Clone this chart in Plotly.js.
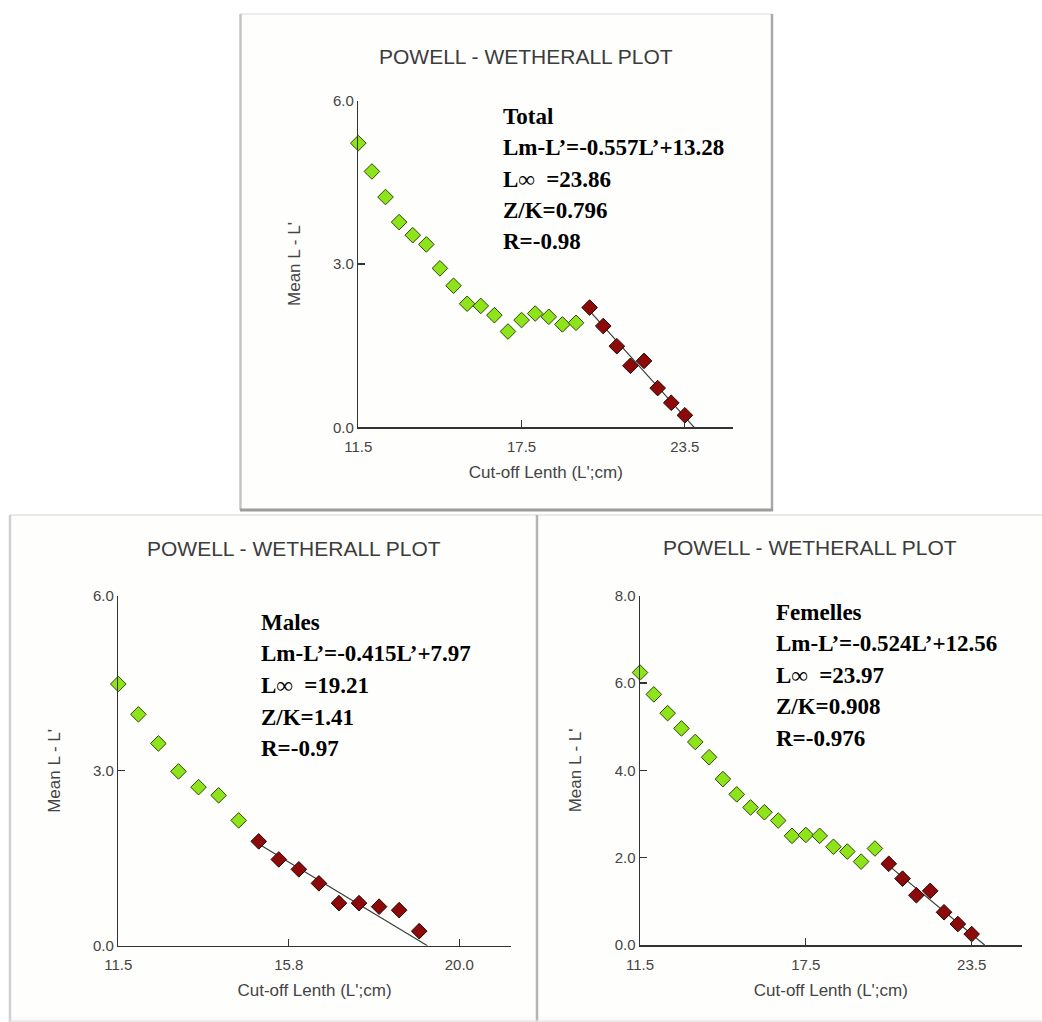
<!DOCTYPE html>
<html>
<head>
<meta charset="utf-8">
<script src="https://cdn.plot.ly/plotly-3.0.1.min.js"></script>
<style>
html,body{margin:0;padding:0;background:#fff;}
#chart{width:1042px;height:1022px;}
</style>
</head>
<body>
<div id="chart"></div>
<script>
// ---------- data ----------
const chartTitle = "POWELL - WETHERALL PLOT";
const xTitle = "Cut-off Lenth (L';cm)";
const yTitle = "Mean L - L'";

// Total
const totalLen  = [11.5,12,12.5,13,13.5,14,14.5,15,15.5,16,16.5,17,17.5,18,18.5,19,19.5,20,20.5,21,21.5,22,22.5,23,23.5];
const totalMean = [5.22,4.70,4.23,3.77,3.53,3.36,2.92,2.60,2.27,2.23,2.06,1.76,1.97,2.09,2.03,1.89,1.92,2.20,1.86,1.49,1.13,1.22,0.72,0.45,0.22];
const totalFitFrom = 17;
const totalSlope = -0.557, totalIntercept = 13.28;
const totalText = ["Total", "Lm-L’=-0.557L’+13.28", "L∞\u00a0 =23.86", "Z/K=0.796", "R=-0.98"];
const totalXTicks = [11.5, 17.5, 23.5];
const totalXTickText = ["11.5", "17.5", "23.5"];
const totalYTicks = [0, 3, 6];
const totalYTickText = ["0.0", "3.0", "6.0"];

// Males
const maleLen  = [11.5,12,12.5,13,13.5,14,14.5,15,15.5,16,16.5,17,17.5,18,18.5,19];
const maleMean = [4.49,3.97,3.47,2.99,2.72,2.58,2.15,1.79,1.48,1.31,1.07,0.73,0.73,0.67,0.61,0.25];
const maleFitFrom = 7;
const maleSlope = -0.415, maleIntercept = 7.97;
const maleText = ["Males", "Lm-L’=-0.415L’+7.97", "L∞\u00a0 =19.21", "Z/K=1.41", "R=-0.97"];
const maleXTicks = [11.5, 15.75, 20];
const maleXTickText = ["11.5", "15.8", "20.0"];
const maleYTicks = [0, 3, 6];
const maleYTickText = ["0.0", "3.0", "6.0"];

// Femelles
const femLen  = [11.5,12,12.5,13,13.5,14,14.5,15,15.5,16,16.5,17,17.5,18,18.5,19,19.5,20,20.5,21,21.5,22,22.5,23,23.5];
const femMean = [6.24,5.74,5.31,4.96,4.65,4.30,3.80,3.45,3.15,3.04,2.85,2.50,2.52,2.50,2.25,2.14,1.91,2.21,1.86,1.52,1.14,1.24,0.75,0.48,0.25];
const femFitFrom = 18;
const femSlope = -0.524, femIntercept = 12.56;
const femText = ["Femelles", "Lm-L’=-0.524L’+12.56", "L∞\u00a0 =23.97", "Z/K=0.908", "R=-0.976"];
const femXTicks = [11.5, 17.5, 23.5];
const femXTickText = ["11.5", "17.5", "23.5"];
const femYTicks = [0, 2, 4, 6, 8];
const femYTickText = ["0.0", "2.0", "4.0", "6.0", "8.0"];

// ---------- layout helpers ----------
const W = 1042, H = 1022;
const px = v => v / W;
const py = v => 1 - v / H;

const GREEN = '#8fe31a', GREEN_EDGE = '#2b4a05';
const RED = '#8c0a0a', RED_EDGE = '#2a0202';
const SANS = 'Liberation Sans, Arial, sans-serif';
const SERIF = 'Liberation Serif, Times New Roman, serif';

function panelTraces(lens, means, fitFrom, slope, intercept, xa, ya) {
  const gx = lens.slice(0, fitFrom), gy = means.slice(0, fitFrom);
  const rx = lens.slice(fitFrom), ry = means.slice(fitFrom);
  const lx0 = rx[0], lx1 = -intercept / slope;
  return [
    {x: [lx0, lx1], y: [slope * lx0 + intercept, slope * lx1 + intercept],
     xaxis: xa, yaxis: ya, mode: 'lines', type: 'scatter', cliponaxis: false,
     line: {color: '#3a3a3a', width: 1.2}, hoverinfo: 'skip', showlegend: false},
    {x: gx, y: gy, xaxis: xa, yaxis: ya, mode: 'markers', type: 'scatter', cliponaxis: false,
     marker: {symbol: 'diamond', size: 12, color: GREEN, line: {color: GREEN_EDGE, width: 1}}, showlegend: false},
    {x: rx, y: ry, xaxis: xa, yaxis: ya, mode: 'markers', type: 'scatter', cliponaxis: false,
     marker: {symbol: 'diamond', size: 12, color: RED, line: {color: RED_EDGE, width: 1}}, showlegend: false}
  ];
}

function axisX(domain, range, tv, tt, anchor) {
  return {domain, range, anchor, tickvals: tv, ticktext: tt, showline: true, linecolor: '#333', linewidth: 1.5,
    ticks: 'inside', ticklen: 7, tickcolor: '#333', tickwidth: 1.2, showgrid: false, zeroline: false,
    tickfont: {family: SANS, size: 15, color: '#444'}, ticklabelstandoff: 5,
    title: {text: xTitle, font: {family: SANS, size: 17, color: '#444'}, standoff: 12}, fixedrange: true};
}
function axisY(domain, range, tv, tt, anchor) {
  return {domain, range, anchor, tickvals: tv, ticktext: tt, showline: true, linecolor: '#333', linewidth: 1.5,
    ticks: 'inside', ticklen: 7, tickcolor: '#333', tickwidth: 1.2, showgrid: false, zeroline: false,
    tickfont: {family: SANS, size: 15, color: '#444'},
    title: {text: yTitle, font: {family: SANS, size: 17, color: '#444'}, standoff: 28}, fixedrange: true};
}

const traces = [].concat(
  panelTraces(totalLen, totalMean, totalFitFrom, totalSlope, totalIntercept, 'x', 'y'),
  panelTraces(maleLen, maleMean, maleFitFrom, maleSlope, maleIntercept, 'x2', 'y2'),
  panelTraces(femLen, femMean, femFitFrom, femSlope, femIntercept, 'x3', 'y3')
);

const annotations = [];
function addTitle(cx, cy) {
  annotations.push({xref: 'paper', yref: 'paper', x: px(cx), y: py(cy), xanchor: 'center', yanchor: 'middle',
    text: chartTitle, showarrow: false, font: {family: SANS, size: 21, color: '#3c3c3c'}});
}
function addBlock(lines, left, top, step) {
  lines.forEach((t, i) => annotations.push({xref: 'paper', yref: 'paper', x: px(left), y: py(top + i * step),
    xanchor: 'left', yanchor: 'middle', text: '<b>' + t + '</b>', showarrow: false,
    font: {family: SERIF, size: 23, color: '#000'}}));
}
addTitle(526, 57);
addTitle(294, 548);
addTitle(810, 547);
addBlock(totalText, 501, 116, 31.5);
addBlock(maleText, 259, 622, 31.7);
addBlock(femText, 774, 612, 31.5);

const shapes = [
  // panel backgrounds
  {type: 'rect', xref: 'paper', yref: 'paper', x0: px(240), x1: px(771), y0: py(14), y1: py(509), fillcolor: '#fefefc', line: {width: 0}, layer: 'below'},
  {type: 'rect', xref: 'paper', yref: 'paper', x0: px(10), x1: px(536), y0: py(516), y1: py(1021), fillcolor: '#fefefc', line: {width: 0}, layer: 'below'},
  {type: 'rect', xref: 'paper', yref: 'paper', x0: px(538), x1: px(1042), y0: py(516), y1: py(1021), fillcolor: '#fefefc', line: {width: 0}, layer: 'below'},
  // top box borders
  {type: 'line', xref: 'paper', yref: 'paper', x0: px(240), x1: px(772), y0: py(14), y1: py(14), line: {color: '#e6e6e6', width: 1.5}},
  {type: 'line', xref: 'paper', yref: 'paper', x0: px(240.5), x1: px(240.5), y0: py(14), y1: py(510), line: {color: '#c4c4c4', width: 2.5}},
  {type: 'line', xref: 'paper', yref: 'paper', x0: px(772), x1: px(772), y0: py(14), y1: py(511), line: {color: '#a8a8a8', width: 2.5}},
  {type: 'line', xref: 'paper', yref: 'paper', x0: px(240), x1: px(773), y0: py(510), y1: py(510), line: {color: '#9c9c9c', width: 3}},
  // bottom boxes
  {type: 'line', xref: 'paper', yref: 'paper', x0: px(10), x1: px(1042), y0: py(515), y1: py(515), line: {color: '#e2e2e2', width: 1.5}},
  {type: 'line', xref: 'paper', yref: 'paper', x0: px(10), x1: px(10), y0: py(515), y1: py(1022), line: {color: '#cfcfcf', width: 2.5}},
  {type: 'line', xref: 'paper', yref: 'paper', x0: px(537), x1: px(537), y0: py(515), y1: py(1022), line: {color: '#b5b5b5', width: 2.5}},
  {type: 'line', xref: 'paper', yref: 'paper', x0: px(10), x1: px(1042), y0: py(1021), y1: py(1021), line: {color: '#e6e6e6', width: 1.5}}
];

const layout = {
  width: W, height: H, margin: {l: 0, r: 0, t: 0, b: 0}, autosize: false,
  paper_bgcolor: '#ffffff', plot_bgcolor: 'rgba(0,0,0,0)', showlegend: false,
  xaxis:  axisX([px(358.3), px(733.3)], [11.5, 25.28], totalXTicks, totalXTickText, 'y'),
  yaxis:  axisY([py(427.3), py(100.7)], [0, 6], totalYTicks, totalYTickText, 'x'),
  xaxis2: axisX([px(118.3), px(510.7)], [11.5, 21.28], maleXTicks, maleXTickText, 'y2'),
  yaxis2: axisY([py(945.7), py(596)], [0, 6], maleYTicks, maleYTickText, 'x2'),
  xaxis3: axisX([px(640), px(1021.7)], [11.5, 25.31], femXTicks, femXTickText, 'y3'),
  yaxis3: axisY([py(945), py(595.7)], [0, 8], femYTicks, femYTickText, 'x3'),
  annotations, shapes
};

Plotly.newPlot('chart', traces, layout, {displayModeBar: false, staticPlot: true});
</script>
</body>
</html>
